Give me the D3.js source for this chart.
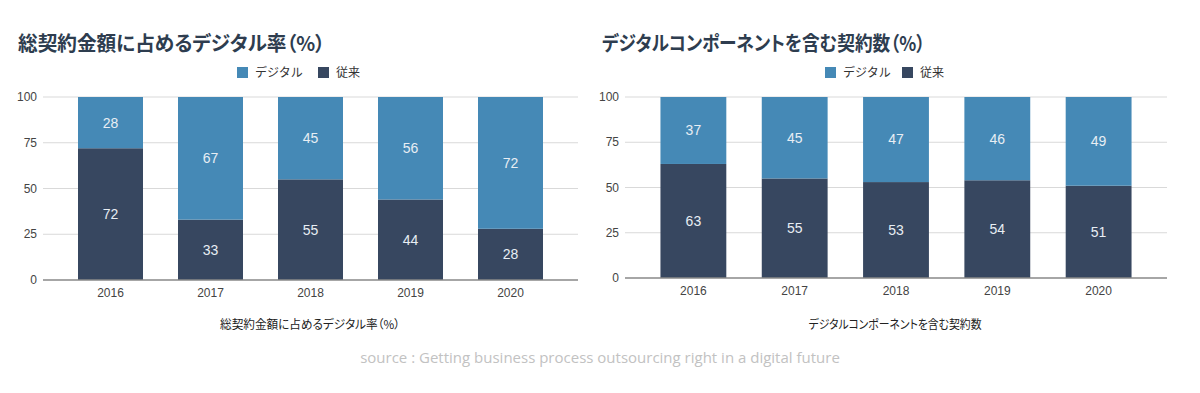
<!DOCTYPE html>
<html>
<head>
<meta charset="utf-8">
<script src="https://cdn.jsdelivr.net/npm/d3@7"></script>
<style>
  body { margin: 0; background: #fff; }
  svg { display: block; }
</style>
</head>
<body>
<div id="chart"></div>
<script>
// data
var years = ["2016", "2017", "2018", "2019", "2020"];
var seriesNames = ["デジタル", "従来"];
var valueShareDigital = [28, 67, 45, 56, 72];
var valueShareLegacy  = [72, 33, 55, 44, 28];
var countDigital = [37, 45, 47, 46, 49];
var countLegacy  = [63, 55, 53, 54, 51];
var yTicks = [0, 25, 50, 75, 100];

var colors = { "デジタル": "#4589b6", "従来": "#374760" };
var jpFont = "'Noto Sans CJK JP', 'Noto Sans', sans-serif";
var numFont = "'Liberation Sans', Arial, sans-serif";

var svg = d3.select("#chart")
  .append("svg")
    .attr("width", 1200)
    .attr("height", 393);

function drawPanel(opt) {
  var g = svg.append("g");

  // title, squeezed a bit to the width of the original proportional font
  g.append("text")
    .attr("x", opt.titleX)
    .attr("y", 51)
    .attr("textLength", opt.titleLen)
    .attr("lengthAdjust", "spacingAndGlyphs")
    .style("font-family", jpFont)
    .style("font-feature-settings", "'palt'")
    .style("font-weight", "bold")
    .style("font-size", "20px")
    .style("fill", "#2e3d4f")
    .text(opt.title);

  var x = d3.scaleBand()
    .domain(years)
    .range([opt.left, opt.right])
    .paddingInner(0.35)
    .paddingOuter(0.35);

  var y = d3.scaleLinear()
    .domain([0, 100])
    .range([opt.bottom, 97]);

  // gridlines
  g.selectAll(".grid")
    .data(yTicks.filter(function(d) { return d > 0; }))
    .enter()
    .append("line")
      .attr("x1", opt.left)
      .attr("x2", opt.right)
      .attr("y1", function(d) { return y(d); })
      .attr("y2", function(d) { return y(d); })
      .attr("stroke", "#d9d9d9")
      .attr("stroke-width", 1);

  // y tick labels
  g.selectAll(".ylab")
    .data(yTicks)
    .enter()
    .append("text")
      .attr("x", opt.left - 6)
      .attr("y", function(d) { return y(d); })
      .attr("dy", "0.35em")
      .attr("text-anchor", "end")
      .style("font-family", numFont)
      .style("font-size", "12px")
      .style("fill", "#444")
      .text(function(d) { return d; });

  // stacked data
  var rows = years.map(function(yr, i) {
    return { year: yr, "従来": opt.legacy[i], "デジタル": opt.digital[i] };
  });
  var stack = d3.stack().keys(["従来", "デジタル"])(rows);

  var layers = g.selectAll(".layer")
    .data(stack)
    .enter()
    .append("g")
      .attr("fill", function(d) { return colors[d.key]; });

  layers.selectAll("rect")
    .data(function(d) { return d; })
    .enter()
    .append("rect")
      .attr("x", function(d) { return x(d.data.year); })
      .attr("y", function(d) { return y(d[1]); })
      .attr("width", x.bandwidth())
      .attr("height", function(d) { return y(d[0]) - y(d[1]); });

  layers.selectAll("text")
    .data(function(d) { return d.map(function(p) { return { p: p, key: d.key }; }); })
    .enter()
    .append("text")
      .attr("x", function(d) { return x(d.p.data.year) + x.bandwidth() / 2; })
      .attr("y", function(d) { return y((d.p[0] + d.p[1]) / 2); })
      .attr("dy", "0.35em")
      .attr("text-anchor", "middle")
      .style("font-family", numFont)
      .style("font-size", "14px")
      .style("fill", "#e8eef4")
      .text(function(d) { return d.p.data[d.key]; });

  // baseline
  g.append("line")
    .attr("x1", opt.left)
    .attr("x2", opt.right)
    .attr("y1", y(0))
    .attr("y2", y(0))
    .attr("stroke", "#888")
    .attr("stroke-width", 1.3);

  // x labels
  g.selectAll(".xlab")
    .data(years)
    .enter()
    .append("text")
      .attr("x", function(d) { return x(d) + x.bandwidth() / 2; })
      .attr("y", opt.bottom + 17)
      .attr("text-anchor", "middle")
      .style("font-family", numFont)
      .style("font-size", "12px")
      .style("fill", "#444")
      .text(function(d) { return d; });

  // axis title
  g.append("text")
    .attr("x", opt.axisTitleX)
    .attr("y", 329)
    .attr("text-anchor", "middle")
    .attr("textLength", opt.axisTitleLen)
    .attr("lengthAdjust", "spacingAndGlyphs")
    .style("font-family", jpFont)
    .style("font-feature-settings", "'palt'")
    .style("font-size", "12px")
    .style("fill", "#222")
    .text(opt.axisTitle);

  // legend
  var lg = g.append("g");
  seriesNames.forEach(function(name, i) {
    var lx = opt.legendX[i];
    lg.append("rect")
      .attr("x", lx)
      .attr("y", 67)
      .attr("width", 11)
      .attr("height", 11)
      .attr("fill", colors[name]);
    lg.append("text")
      .attr("x", lx + 18)
      .attr("y", 72.5)
      .attr("dy", "0.35em")
      .style("font-family", jpFont)
      .style("font-size", "12px")
      .style("fill", "#333")
      .text(name);
  });
}

drawPanel({
  title: "総契約金額に占めるデジタル率（%）",
  titleX: 18, titleLen: 307,
  left: 43, right: 578, bottom: 280,
  digital: valueShareDigital,
  legacy: valueShareLegacy,
  axisTitle: "総契約金額に占めるデジタル率（%）",
  axisTitleX: 310, axisTitleLen: 180,
  legendX: [237, 318]
});

drawPanel({
  title: "デジタルコンポーネントを含む契約数（%）",
  titleX: 602, titleLen: 323,
  left: 625, right: 1167, bottom: 278,
  digital: countDigital,
  legacy: countLegacy,
  axisTitle: "デジタルコンポーネントを含む契約数",
  axisTitleX: 895, axisTitleLen: 173,
  legendX: [825, 902]
});

// source
svg.append("text")
  .attr("x", 600)
  .attr("y", 363)
  .attr("text-anchor", "middle")
  .style("font-family", "'Open Sans', Lato, sans-serif")
  .style("font-size", "15px")
  .style("fill", "#c2c2c2")
  .text("source : Getting business process outsourcing right in a digital future");
</script>
</body>
</html>
